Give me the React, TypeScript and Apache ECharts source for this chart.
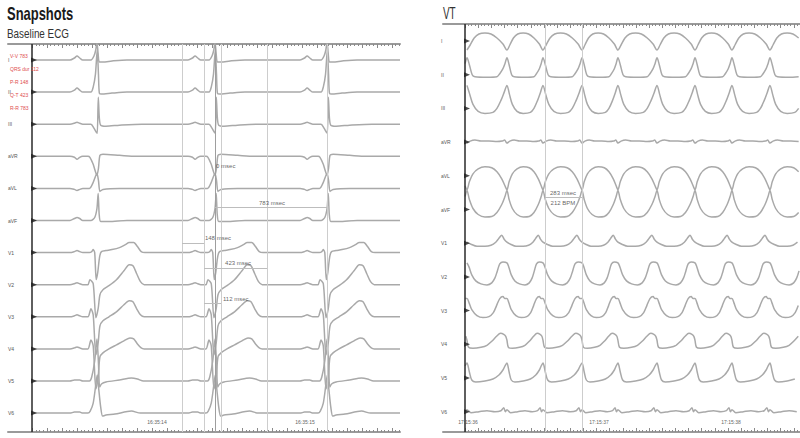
import React, { useEffect, useRef } from "react";
import * as echarts from "echarts";

// ---------------- DATA ----------------
const LEADS = ["I", "II", "III", "aVR", "aVL", "aVF", "V1", "V2", "V3", "V4", "V5", "V6"];

// Baseline ECG: R-wave times (ms from strip start)
const BASE_R_TIMES = [433, 1220, 1967];
// beat templates: [ms relative to R, amplitude]
const BASE_I = [[-180, 0], [-150, 2], [-133, 4], [-115, 2], [-95, 0], [-40, 0], [-20, 4], [-8, 10], [0, 18], [8, 6], [16, -2], [40, -2], [100, -1], [200, 0], [300, 0]];
const BASE_II = [[-180, 0], [-150, 2], [-133, 4], [-115, 2], [-95, 0], [-40, 0], [-25, 5], [-10, 18], [2, 42], [10, 18], [16, -1], [30, -2], [100, -1], [200, 0], [300, 0]];
const BASE_III = [[-180, 0], [-150, 1], [-133, 2], [-115, 1], [-95, 0], [-40, 0], [-20, -4], [-5, -8], [2, -9], [9, 27], [16, 6], [25, -1], [60, -2], [150, -1], [300, 0]];
const BASE_AVR = [[-180, 0], [-150, -1], [-133, -3], [-115, -1], [-95, 0], [-60, 0], [-47, -1], [-25, -8], [0, -19], [10, -12], [20, 1], [40, 2], [150, 1], [260, 0]];
const BASE_AVL = [[-180, 0], [-150, -1], [-133, -2], [-115, -1], [-95, 0], [-50, 0], [-25, 6], [0, 15], [10, 8], [20, -3], [40, -1], [150, 0]];
const BASE_AVF = [[-180, 0], [-150, 2], [-133, 3], [-115, 2], [-95, 0], [-40, 0], [-15, 3], [0, 12], [8, 27], [15, 6], [25, -1], [80, -1], [200, 0]];
const BASE_V1 = [[-180, 0], [-150, 1], [-133, 2], [-115, 1], [-95, 0], [-50, 0], [-35, 1], [-25, 3], [-15, 0], [-5, -27], [5, -20], [18, -4], [30, 1], [60, 2], [100, 3], [150, 5], [190, 8], [215, 10], [245, 10], [270, 6], [295, 1], [320, 0]];
const BASE_V2 = [[-180, 0], [-150, 1], [-133, 2], [-115, 1], [-95, 0], [-60, 0], [-47, 5], [-25, 1], [-7, -33], [8, -24], [20, -10], [40, -5], [80, -1], [130, 5], [180, 14], [215, 20], [240, 19], [265, 11], [290, 3], [315, 0]];
const BASE_V3 = [[-180, 0], [-150, 1], [-133, 2], [-115, 1], [-95, 0], [-60, 0], [-40, 8], [-25, 2], [-7, -38], [8, -26], [20, -9], [40, -4], [80, 0], [130, 5], [180, 12], [215, 16], [240, 15], [265, 8], [290, 2], [315, 0]];
const BASE_V4 = [[-180, 0], [-150, 1], [-133, 2], [-115, 1], [-95, 0], [-60, 0], [-40, 9], [-25, 3], [-7, -40], [8, -28], [20, -8], [40, -4], [80, 0], [130, 4], [180, 8], [220, 11], [245, 10], [270, 5], [295, 1], [315, 0]];
const BASE_V5 = [[-180, 0], [-150, 1], [-133, 1], [-115, 1], [-95, 0], [-50, 0], [-35, 4], [-15, 20], [0, 42], [10, 18], [18, -6], [30, -3], [60, -1], [150, 1], [230, 3], [270, 2], [310, 0]];
const BASE_V6 = [[-180, 0], [-150, 1], [-133, 1], [-115, 1], [-95, 0], [-60, 0], [-45, 2], [-25, 10], [-8, 28], [2, 38], [12, 24], [25, 6], [38, -3], [60, -2], [120, -1], [230, 2], [290, 0]];

// VT: beat reference times (ms from strip start)
const VT_BEATS = [-275, 15, 319, 593, 890, 1163, 1460, 1749, 2030, 2319, 2610];
// beat templates: [phase within cycle, amplitude]
const VT_I = [[0, -9], [0.08, -4], [0.18, 3], [0.3, 7], [0.45, 8], [0.6, 7], [0.75, 3], [0.9, -3]];
const VT_II = [[0, 17], [0.06, 10], [0.13, 0], [0.2, -2], [0.5, -2.5], [0.75, -2], [0.82, 1], [0.9, 6], [0.95, 11]];
const VT_III = [[0, 23], [0.07, 14], [0.15, 4], [0.28, -3], [0.45, -5], [0.65, -4], [0.75, 0], [0.85, 8], [0.93, 16]];
const VT_AVR = [[0, -1], [0.08, 1], [0.2, 2], [0.35, 1], [0.55, 1], [0.75, 0.5], [0.88, 1], [0.94, 2]];
const VT_AVL = [[0, -14], [0.06, -6], [0.15, 2], [0.28, 7], [0.45, 9], [0.62, 8], [0.75, 4], [0.87, -3], [0.95, -10]];
const VT_AVF = [[0, 19], [0.06, 10], [0.15, 1], [0.28, -5], [0.45, -7.5], [0.62, -7], [0.75, -3], [0.87, 5], [0.95, 13]];
const VT_V1 = [[0, 1], [0.1, -1], [0.25, -3], [0.45, -3], [0.6, -2], [0.72, 1], [0.8, 5], [0.87, 8], [0.93, 4]];
const VT_V2 = [[0, 14], [0.05, 10], [0.12, 2], [0.22, -4], [0.35, -7], [0.5, -8], [0.62, -6], [0.7, -1], [0.76, 6], [0.82, 13], [0.9, 15]];
const VT_V3 = [[0, 12], [0.05, 8], [0.12, 1], [0.25, -5], [0.4, -7], [0.55, -6], [0.66, -2], [0.74, 5], [0.82, 12], [0.9, 14], [0.95, 12]];
const VT_V4 = [[0, 4], [0.04, -3], [0.15, -4], [0.35, -3], [0.5, -1], [0.62, 3], [0.74, 8], [0.84, 11], [0.92, 10], [0.97, 8]];
const VT_V5 = [[0, 15], [0.06, 6], [0.12, -2], [0.22, -4], [0.45, -3], [0.65, -1], [0.8, 3], [0.9, 8], [0.95, 12]];
const VT_V6 = [[0, 2], [0.1, -1], [0.3, 0], [0.5, 1], [0.7, 0], [0.85, 1], [0.92, 4], [0.96, 0]];

const BASE_TIME_TICKS = [833, 1820];
const BASE_TIME_LABELS = ["16:35:14", "16:35:15"];
const VT_TIME_TICKS = [23, 1019, 2023];
const VT_TIME_LABELS = ["17:15:36", "17:15:37", "17:15:38"];

const BASE_CURSORS = [1000, 1147, 1220, 1260, 1567, 1967];
const VT_CURSORS = [608, 890];

const BASE_MEASURE_TEXT = ["0 msec", "783 msec", "148 msec", "423 msec", "112 msec"];
const BASE_MEASURE_FROM = [1220, 1220, 1000, 1147, 1147];
const BASE_MEASURE_TO = [1220, 1967, 1147, 1567, 1260];
const VT_MEASURE_TEXT = ["283 msec", "212 BPM"];
const VT_MEASURE_FROM = [608];
const VT_MEASURE_TO = [890];

const RED_NOTES = ["V-V 783", "QRS dur 112", "P-R 148", "Q-T 423", "R-R 783"];

// ---------------- LAYOUT ----------------
const LP = { left: 8, right: 400, top: 44, bottom: 432, axisPx: 32, pxPerMs: 0.15, rowFirst: 16, rowStep: 32.1 };
const RP = { left: 443, right: 800, top: 24, bottom: 432, axisPx: 465, pxPerMs: 0.1315, rowFirst: 17, rowStep: 33.7 };
// measurement annotation layout (px below panel top, label anchor ms / align)
const BASE_MEASURE_LINE_Y = [null, 163, 199, 224, 259];
const BASE_MEASURE_LABEL_T = [1227, 1600, 1153, 1287, 1273];
const BASE_MEASURE_LABEL_Y = [122, 159, 194, 219, 255];
const BASE_MEASURE_ALIGN = ["left", "center", "left", "left", "left"];
const VT_MEASURE_LINE_Y = [173];
const VT_MEASURE_LABEL_T = [745, 745];
const VT_MEASURE_LABEL_Y = [169, 179];

const TRACE_COLOR = "#a9a9a9";
const FONT = "Liberation Sans, Arial, sans-serif";

const BASE_TEMPLATES = [BASE_I, BASE_II, BASE_III, BASE_AVR, BASE_AVL, BASE_AVF, BASE_V1, BASE_V2, BASE_V3, BASE_V4, BASE_V5, BASE_V6];
const VT_TEMPLATES = [VT_I, VT_II, VT_III, VT_AVR, VT_AVL, VT_AVF, VT_V1, VT_V2, VT_V3, VT_V4, VT_V5, VT_V6];

function panelRange(p: typeof LP) {
  return {
    xMin: -(p.axisPx - p.left) / p.pxPerMs,
    xMax: (p.right - p.axisPx) / p.pxPerMs,
    yMin: -(p.bottom - p.top),
  };
}
const rowBase = (p: typeof LP, i: number) => -(p.rowFirst + p.rowStep * i);

function buildOption() {
  const lr = panelRange(LP);
  const rr = panelRange(RP);

  const ticks = (max: number, step: number, skip: number) => {
    const out: number[] = [];
    for (let v = 0; v <= max; v += step) {
      if (skip && Math.abs(v % skip) < 1e-6) continue;
      out.push(v);
    }
    return out;
  };

  const xAxis = (grid: number, pos: string, r: any, tickVals: number[], len: number, showLine: boolean, labelVals?: number[], labelTexts?: string[]) => ({
    type: "value",
    gridIndex: grid,
    position: pos,
    min: r.xMin,
    max: r.xMax,
    axisLine: { show: showLine, onZero: false, lineStyle: { color: "#9a9a9a", width: 2 } },
    axisTick: { show: true, inside: true, length: len, customValues: tickVals, lineStyle: { color: "#8a8a8a", width: 1 } },
    axisLabel: labelVals
      ? {
          show: true,
          inside: true,
          customValues: labelVals,
          formatter: (v: number) => {
            const k = labelVals.findIndex((x) => Math.abs(x - v) < 0.5);
            return k >= 0 ? labelTexts![k] : "";
          },
          fontSize: 5,
          color: "#666",
          margin: 8,
          fontFamily: FONT,
        }
      : { show: false },
    splitLine: { show: false },
  });

  const yAxis = (grid: number, p: typeof LP, r: any, margin: number) => {
    const vals = LEADS.map((_, i) => rowBase(p, i));
    return {
      type: "value",
      gridIndex: grid,
      min: r.yMin,
      max: 0,
      axisLine: { show: false },
      axisTick: { show: false },
      splitLine: { show: false },
      axisLabel: {
        show: true,
        inside: true,
        customValues: vals,
        formatter: (v: number) => {
          const k = vals.findIndex((x) => Math.abs(x - v) < 0.5);
          return k >= 0 ? LEADS[k] : "";
        },
        fontSize: 5,
        color: "#555555",
        margin,
        fontFamily: FONT,
      },
    };
  };

  const series: any[] = [];

  // left traces
  BASE_TEMPLATES.forEach((tpl, i) => {
    const b = rowBase(LP, i);
    const pts: number[][] = [[0, b]];
    BASE_R_TIMES.forEach((r) => tpl.forEach(([dt, v]) => pts.push([r + dt, b + v])));
    pts.push([lr.xMax, b]);
    series.push({
      type: "line", name: "base-" + LEADS[i], xAxisIndex: 0, yAxisIndex: 0, data: pts,
      showSymbol: false, smooth: 0.25, lineStyle: { color: TRACE_COLOR, width: 1.5 }, z: 3, silent: true,
    });
  });

  // right traces
  VT_TEMPLATES.forEach((tpl, i) => {
    const b = rowBase(RP, i);
    const pts: number[][] = [];
    for (let k = 0; k < VT_BEATS.length - 1; k++) {
      const t0 = VT_BEATS[k];
      const t1 = VT_BEATS[k + 1];
      tpl.forEach(([ph, v]) => {
        const t = t0 + ph * (t1 - t0);
        if (t >= 0 && t <= rr.xMax) pts.push([t, b + v]);
      });
    }
    series.push({
      type: "line", name: "vt-" + LEADS[i], xAxisIndex: 4, yAxisIndex: 1, data: pts,
      showSymbol: false, smooth: 0.3, lineStyle: { color: TRACE_COLOR, width: 1.5 }, z: 3, silent: true,
    });
  });

  const markerSeries = (xi: number, yi: number, p: typeof LP) => ({
    type: "scatter", xAxisIndex: xi, yAxisIndex: yi, silent: true, z: 5,
    data: LEADS.map((_, i) => [0, rowBase(p, i)]),
    symbol: "triangle", symbolRotate: -90, symbolSize: [5, 6], symbolOffset: [2, 0],
    itemStyle: { color: "#1e1e1e" },
    markLine: {
      silent: true, symbol: "none", label: { show: false },
      lineStyle: { color: "#2a2a2a", width: 1.5, type: "solid" },
      data: [{ xAxis: 0 }],
    },
  });
  series.push(markerSeries(0, 0, LP));
  series.push(markerSeries(4, 1, RP));

  const cursorSeries = (xi: number, yi: number, vals: number[], strong?: number) => ({
    type: "line", xAxisIndex: xi, yAxisIndex: yi, data: [], z: 1, silent: true,
    markLine: {
      silent: true, symbol: "none", label: { show: false },
      data: vals.map((v) => ({ xAxis: v, lineStyle: { color: v === strong ? "#9e9e9e" : "#cdcdcd", width: 1, type: "solid" } })),
    },
  });
  series.push(cursorSeries(0, 0, BASE_CURSORS, 1220));
  series.push(cursorSeries(4, 1, VT_CURSORS));

  // measurement lines
  const baseLines: any[] = [];
  BASE_MEASURE_TEXT.forEach((_, i) => {
    const y = BASE_MEASURE_LINE_Y[i];
    if (y === null) return;
    baseLines.push([{ coord: [BASE_MEASURE_FROM[i], -y] }, { coord: [BASE_MEASURE_TO[i], -y] }]);
  });
  series.push({
    type: "line", xAxisIndex: 0, yAxisIndex: 0, data: [], z: 2, silent: true,
    markLine: { silent: true, symbol: "none", label: { show: false }, lineStyle: { color: "#bdbdbd", width: 1, type: "solid" }, data: baseLines },
  });
  series.push({
    type: "line", xAxisIndex: 4, yAxisIndex: 1, data: [], z: 2, silent: true,
    markLine: {
      silent: true, symbol: "none", label: { show: false }, lineStyle: { color: "#bdbdbd", width: 1, type: "solid" },
      data: VT_MEASURE_FROM.map((f, i) => [{ coord: [f, -VT_MEASURE_LINE_Y[i]] }, { coord: [VT_MEASURE_TO[i], -VT_MEASURE_LINE_Y[i]] }]),
    },
  });

  // measurement texts
  const textSeries = (xi: number, yi: number, items: any[]) => ({
    type: "scatter", xAxisIndex: xi, yAxisIndex: yi, silent: true, z: 6,
    symbolSize: 1, itemStyle: { color: "rgba(255,255,255,0)" },
    data: items,
    label: { show: true, position: "inside", formatter: "{b}", color: "#3a3a3a", fontSize: 6, fontFamily: FONT, verticalAlign: "middle" },
  });
  series.push(
    textSeries(0, 0, BASE_MEASURE_TEXT.map((t, i) => ({
      name: t, value: [BASE_MEASURE_LABEL_T[i], -BASE_MEASURE_LABEL_Y[i]], label: { align: BASE_MEASURE_ALIGN[i] },
    })))
  );
  series.push(
    textSeries(4, 1, VT_MEASURE_TEXT.map((t, i) => ({
      name: t, value: [VT_MEASURE_LABEL_T[i], -VT_MEASURE_LABEL_Y[i]], label: { align: "center" },
    })))
  );

  const lMajor = ticks(lr.xMax, 100, 0);
  const lMinor = ticks(lr.xMax, 25, 100);
  const rMajor = ticks(rr.xMax, 100, 0);
  const rMinor = ticks(rr.xMax, 25, 100);

  const graphic: any[] = [
    { type: "text", x: 7, y: 13.5, scaleX: 0.72, style: { text: "Snapshots", fontSize: 18, fontWeight: "bold", fontFamily: FONT, fill: "#1a1a1a", verticalAlign: "middle" } },
    { type: "text", x: 7, y: 33, scaleX: 0.76, style: { text: "Baseline ECG", fontSize: 13, fontFamily: FONT, fill: "#333", verticalAlign: "middle" } },
    { type: "text", x: 443, y: 14, scaleX: 0.62, style: { text: "VT", fontSize: 16, fontFamily: FONT, fill: "#333", verticalAlign: "middle" } },
    ...RED_NOTES.map((t, i) => ({
      type: "text", x: 10, y: 56 + 12.9 * i, z: 10,
      style: { text: t, fontSize: 5, fontFamily: FONT, fill: "#e04c4c", verticalAlign: "middle" },
    })),
  ];

  return {
    animation: false,
    backgroundColor: "#ffffff",
    textStyle: { fontFamily: FONT },
    grid: [
      { left: LP.left, width: LP.right - LP.left, top: LP.top, height: LP.bottom - LP.top, containLabel: false },
      { left: RP.left, width: RP.right - RP.left, top: RP.top, height: RP.bottom - RP.top, containLabel: false },
    ],
    xAxis: [
      xAxis(0, "top", lr, lMajor, 4, true),
      xAxis(0, "top", lr, lMinor, 2, false),
      xAxis(0, "bottom", lr, lMajor, 4, true, BASE_TIME_TICKS, BASE_TIME_LABELS),
      xAxis(0, "bottom", lr, lMinor, 2, false),
      xAxis(1, "top", rr, rMajor, 4, true),
      xAxis(1, "top", rr, rMinor, 2, false),
      xAxis(1, "bottom", rr, rMajor, 4, true, VT_TIME_TICKS, VT_TIME_LABELS),
      xAxis(1, "bottom", rr, rMinor, 2, false),
    ],
    yAxis: [yAxis(0, LP, lr, 0), yAxis(1, RP, rr, -2)],
    series,
    graphic,
  };
}

export default function App() {
  const ref = useRef<HTMLDivElement>(null);
  useEffect(() => {
    if (!ref.current) return;
    const chart = echarts.init(ref.current, undefined, { renderer: "svg" });
    chart.setOption(buildOption() as any);
    return () => chart.dispose();
  }, []);
  return <div ref={ref} style={{ position: "fixed", left: 0, top: 0, width: 800, height: 438, background: "#fff" }} />;
}
